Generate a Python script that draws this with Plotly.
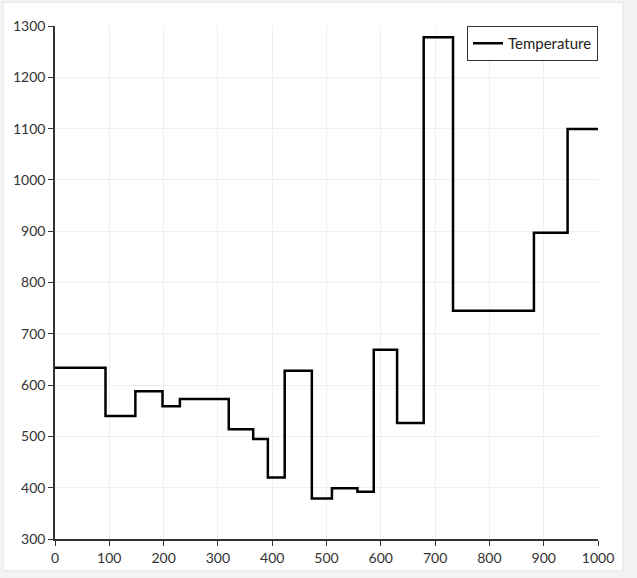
import plotly.graph_objects as go

# Step positions (start of each constant segment) and temperature held over it
step_x = [0, 93, 148, 198, 230, 320, 365, 392, 423, 473, 510, 557, 587, 630, 679, 733, 882, 944, 1000]
temperature = [634, 540, 588, 559, 573, 514, 495, 420, 628, 379, 399, 392, 669, 526, 1278, 745, 897, 1099, 1099]

x_ticks = [0, 100, 200, 300, 400, 500, 600, 700, 800, 900, 1000]
y_ticks = [300, 400, 500, 600, 700, 800, 900, 1000, 1100, 1200, 1300]

FONT = "Lato, 'DejaVu Sans', sans-serif"

fig = go.Figure()
fig.add_trace(go.Scatter(
    x=step_x, y=temperature, mode="lines", name="Temperature",
    line=dict(color="black", width=2.5, shape="hv"),
))

fig.update_layout(
    width=637, height=578,
    margin=dict(l=55, r=39, t=26, b=35),
    paper_bgcolor="#f4f4f4",
    plot_bgcolor="white",
    font=dict(family=FONT, size=14, color="#333"),
    showlegend=True,
    legend=dict(
        x=1.0, y=1.0, xanchor="right", yanchor="top",
        bordercolor="#333", borderwidth=1, bgcolor="white",
        font=dict(size=15, color="#222"),
        itemwidth=30,
    ),
    shapes=[dict(
        type="rect", xref="paper", yref="paper", layer="below",
        x0=-0.0958, x1=1.046, y0=-0.0619, y1=1.0464,
        fillcolor="white", line=dict(color="#e4e4e4", width=1),
    )],
)

fig.update_xaxes(
    range=[0, 1000], tickvals=x_ticks, ticktext=[str(v) for v in x_ticks],
    showgrid=True, gridcolor="#efefef", gridwidth=1,
    showline=True, linecolor="#333", linewidth=1.5,
    ticks="outside", ticklen=5, tickcolor="#333", tickwidth=1.2,
    zeroline=False,
)
fig.update_yaxes(
    range=[300, 1300], tickvals=y_ticks, ticktext=[str(v) for v in y_ticks],
    showgrid=True, gridcolor="#efefef", gridwidth=1,
    showline=True, linecolor="#333", linewidth=1.5,
    ticks="outside", ticklen=5, tickcolor="#333", tickwidth=1.2,
    zeroline=False,
)

fig.write_html("out.html")
